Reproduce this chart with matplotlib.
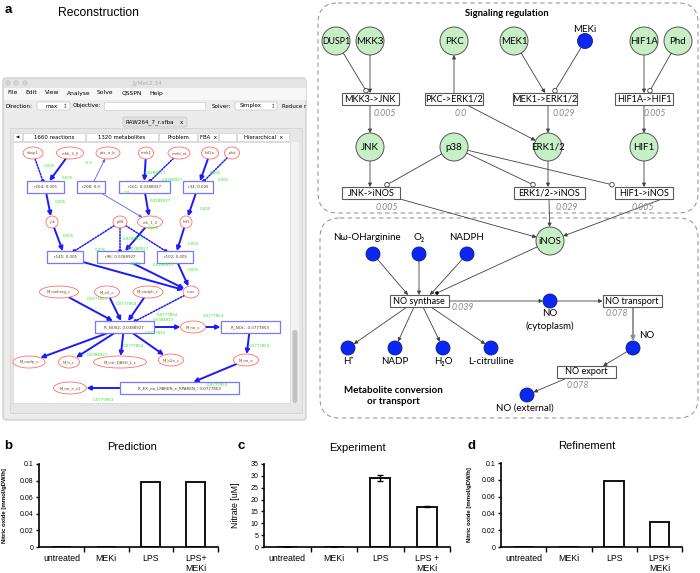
import numpy as np
import matplotlib
matplotlib.use('Agg')
import matplotlib.pyplot as plt
from matplotlib.patches import Circle, Ellipse, Rectangle, FancyBboxPatch, FancyArrowPatch

plt.rcParams['font.family'] = ['Liberation Sans', 'DejaVu Sans']

# values of the bar charts (panels b, c, d)
conditions = ['untreated', 'MEKi', 'LPS', 'LPS+\nMEKi']
conditions_exp = ['untreated', 'MEKi', 'LPS', 'LPS +\nMEKi']
no_prediction = [0, 0, 0.078, 0.078]
nitrate_exp = [0, 0, 29.2, 17.0]
nitrate_err = [0, 0, 1.3, 0.3]
no_refined = [0, 0, 0.078, 0.030]

# flux values written next to the reactions of the network
signal_flux = ['0.005', '0.0', '0.029', '0.005']
inos_flux = ['0.005', '0.029', '0.005']
metab_flux = ['0.039', '0.078', '0.078']

NET = ['Lato', 'DejaVu Sans']
UI = ['DejaVu Sans']

fig = plt.figure(figsize=(7, 5.73), dpi=100)
ax = fig.add_axes([0, 0, 1, 1])
ax.set_xlim(0, 700)
ax.set_ylim(573, 0)
ax.axis('off')


def txt(x, y, s, size, ha='center', va='center', **kw):
    ax.text(x, y, s, fontsize=size, ha=ha, va=va, **kw)


def arrow(p0, p1, color='#404040', lw=0.6, ms=5.5, style='-|>', ls='-', z=3):
    ax.add_patch(FancyArrowPatch(p0, p1, arrowstyle=style, mutation_scale=ms, lw=lw,
                                 color=color, linestyle=ls, shrinkA=0, shrinkB=0, zorder=z))


# ---------------- panel letters / titles ----------------
txt(5, 10, 'a', 9.5, ha='left', weight='bold')
txt(98, 13, 'Reconstruction', 8.7)
txt(4, 446, 'b', 9.5, ha='left', weight='bold')
txt(237, 446, 'c', 9.5, ha='left', weight='bold')
txt(467, 446, 'd', 9.5, ha='left', weight='bold')
txt(132, 447, 'Prediction', 8)
txt(357, 448, 'Experiment', 8)
txt(587, 446, 'Refinement', 8)

# ---------------- screenshot of the software ----------------
ax.add_patch(FancyBboxPatch((3, 78), 303, 342, boxstyle='round,pad=0,rounding_size=3',
                            fc='#ececec', ec='#c4c4c4', lw=0.8, zorder=1))
ax.add_patch(Rectangle((3.5, 78.5), 302, 9.5, fc='#e4e4e4', ec='none', zorder=1))
for cx in (8, 16, 25):
    ax.add_patch(Circle((cx, 83), 2.4, fc='#d2d2d2', ec='#c0c0c0', lw=0.3, zorder=2))
txt(147, 83, 'JyMet2.34', 4.3, color='#b0b0b0', family=UI)
ax.add_patch(Rectangle((3.5, 88), 302, 12, fc='#f7f7f7', ec='none', zorder=1))
for mx, m in zip([7, 25, 45, 67, 97, 122, 149],
                 ['File', 'Edit', 'View', 'Analyse', 'Solve', 'QSSPN', 'Help']):
    txt(mx, 93, m, 4.3, ha='left', family=UI)
txt(5, 106, 'Direction:', 4.1, ha='left', family=UI)
ax.add_patch(FancyBboxPatch((37, 102), 33, 8, boxstyle='round,pad=0,rounding_size=1.5',
                            fc='white', ec='#bdbdbd', lw=0.4, zorder=2))
txt(45, 106, 'max', 4.0, ha='left', family=UI)
txt(65, 106, '\u2195', 4.0, family=UI, color='#555555')
txt(73, 106, 'Objective:', 4.1, ha='left', family=UI)
ax.add_patch(Rectangle((104, 102), 101, 8, fc='white', ec='#c4c4c4', lw=0.4, zorder=2))
txt(212, 106, 'Solver:', 4.1, ha='left', family=UI)
ax.add_patch(FancyBboxPatch((235, 102), 42, 8, boxstyle='round,pad=0,rounding_size=1.5',
                            fc='white', ec='#bdbdbd', lw=0.4, zorder=2))
txt(240, 106, 'Simplex', 4.0, ha='left', family=UI)
txt(273, 106, '\u2195', 4.0, family=UI, color='#555555')
txt(282, 106, 'Reduce r', 4.0, ha='left', family=UI)
ax.add_patch(FancyBboxPatch((123, 117), 64, 10, boxstyle='round,pad=0,rounding_size=1.5',
                            fc='#e2e2e2', ec='#bcbcbc', lw=0.4, zorder=2))
txt(150, 122, 'RAW264_7_r.sfba', 4.1, family=UI)
txt(181, 122, 'x', 4.0, family=UI)
ax.add_patch(Rectangle((10, 128), 292, 285, fc='#e6e6e6', ec='#cfcfcf', lw=0.5, zorder=1))
for cx0, cw, lab in [(13, 9, '\u25c0'), (23, 62, '1660 reactions'), (86, 72, '1320 metabolites'),
                     (159, 38, 'Problem'), (198, 20, 'FBA  x'), (219, 17, ''),
                     (237, 52, 'Hierarchical  x')]:
    ax.add_patch(Rectangle((cx0, 133), cw, 8, fc='white', ec='#cccccc', lw=0.4, zorder=2))
    txt(cx0 + cw / 2, 137.3, lab, 3.9 if lab != '\u25c0' else 3.2, family=UI)
ax.add_patch(Rectangle((13, 142), 277, 261, fc='white', ec='#cccccc', lw=0.4, zorder=2))
ax.add_patch(Rectangle((291, 142), 8, 261, fc='#f2f2f2', ec='none', zorder=2))
ax.add_patch(FancyBboxPatch((292.5, 330), 5, 73, boxstyle='round,pad=0,rounding_size=2',
                            fc='#c2c2c2', ec='none', zorder=3))

# network drawn inside the screenshot
scr_nodes = {
    'dusp1': (33, 153, 20, 'e'), 'mkk_3_6': (70, 153, 27, 'e'), 'pkc_a_b': (108, 153, 24, 'e'),
    'mek1': (146, 153, 15, 'e'), 'meki_xt': (179, 153, 22, 'e'), 'hif1a': (210, 153, 17, 'e'),
    'phd': (232, 153, 15, 'e'),
    'r164; 0.005': (45, 187, 37, 'r'), 'r208; 0.0': (91, 187, 28, 'r'),
    'r161; 0.0288927': (144, 187, 51, 'r'), 'r34; 0.005': (198, 187, 30, 'r'),
    'jnk': (52, 222, 12, 'e'), 'p38': (120, 222, 14, 'e'), 'erk_1_2': (150, 222, 25, 'e'),
    'hif1': (186, 222, 12, 'e'),
    'r145; 0.005': (65, 257, 36, 'r'), 'r96; 0.0288927': (120, 257, 47, 'r'),
    'r102; 0.005': (175, 257, 36, 'r'),
    'inos': (191, 292, 16, 'e'), 'M_nwharg_c': (59, 292, 39, 'e'), 'M_o2_c': (107, 292, 25, 'e'),
    'M_nadph_c': (148, 292, 30, 'e'),
    'R_NOS2; 0.0388927': (124, 327, 59, 'r'), 'M_no_c': (193, 327, 25, 'e'),
    'R_NOt; -0.0777853': (250, 327, 59, 'r'),
    'M_nadp_c': (29, 362, 32, 'e'), 'M_h_c': (69, 362, 21, 'e'),
    'M_citr_DASH_L_c': (120, 362, 53, 'e'), 'M_h2o_c': (171, 360, 25, 'e'),
    'M_no_e': (246, 360, 25, 'e'),
    'M_no_e_x1': (70, 388, 33, 'e'),
    'R_EX_no_LPAREN_e_RPAREN_; 0.0777853': (179, 388, 119, 'r'),
}
scr_edges = [
    ('dusp1', 'r164; 0.005', 'dot'), ('mkk_3_6', 'r164; 0.005', 'thick'),
    ('r208; 0.0', 'pkc_a_b', 'thin'), ('mek1', 'r161; 0.0288927', 'thick'),
    ('meki_xt', 'r161; 0.0288927', 'dot'), ('hif1a', 'r34; 0.005', 'thick'),
    ('phd', 'r34; 0.005', 'dot'), ('r164; 0.005', 'jnk', 'thick'),
    ('r208; 0.0', 'erk_1_2', 'thin'), ('r161; 0.0288927', 'erk_1_2', 'thick'),
    ('r34; 0.005', 'hif1', 'thick'), ('jnk', 'r145; 0.005', 'thick'),
    ('p38', 'r145; 0.005', 'dot'), ('p38', 'r96; 0.0288927', 'dot'),
    ('erk_1_2', 'r96; 0.0288927', 'thick'), ('p38', 'r102; 0.005', 'dot'),
    ('hif1', 'r102; 0.005', 'thick'), ('r145; 0.005', 'inos', 'thick'),
    ('r96; 0.0288927', 'inos', 'thick'), ('r102; 0.005', 'inos', 'thick'),
    ('M_nwharg_c', 'R_NOS2; 0.0388927', 'thick'), ('M_o2_c', 'R_NOS2; 0.0388927', 'thick'),
    ('M_nadph_c', 'R_NOS2; 0.0388927', 'thick'), ('inos', 'R_NOS2; 0.0388927', 'dot'),
    ('R_NOS2; 0.0388927', 'M_no_c', 'thick'), ('M_no_c', 'R_NOt; -0.0777853', 'thick'),
    ('R_NOS2; 0.0388927', 'M_nadp_c', 'thick'), ('R_NOS2; 0.0388927', 'M_h_c', 'thick'),
    ('R_NOS2; 0.0388927', 'M_citr_DASH_L_c', 'thick'), ('R_NOS2; 0.0388927', 'M_h2o_c', 'thick'),
    ('R_NOt; -0.0777853', 'M_no_e', 'thick'),
    ('M_no_e', 'R_EX_no_LPAREN_e_RPAREN_; 0.0777853', 'thick'),
    ('R_EX_no_LPAREN_e_RPAREN_; 0.0777853', 'M_no_e_x1', 'thick'),
]
scr_green = [
    (49, 166, '0.005'), (67, 178, '0.005'), (89, 163, '-0.0'), (60, 202, '0.005'),
    (68, 236, '0.005'), (100, 250, '0.005'), (127, 193, '0.0'), (155, 173, '0.0288927'),
    (172, 180, '0.0288927'), (215, 173, '0.005'), (223, 180, '0.005'), (160, 201, '0.0288927'),
    (205, 209, '0.005'), (153, 228, '0.005'), (133, 239, '0.0288927'), (138, 249, '0.0288927'),
    (193, 244, '0.005'), (135, 264, '0.005'), (163, 265, '0.0288927'), (193, 270, '0.005'),
    (97, 299, '0.0777853'), (126, 304, '0.0777854'), (167, 315, '0.0777854'),
    (163, 320, '0.0388927'), (213, 316, '0.0777853'), (155, 333, '0.0777854'),
    (133, 346, '0.0777854'), (97, 355, '0.0388927'), (259, 346, '0.0777853'),
    (217, 385, '0.0777853'), (103, 400, '0.0777853'),
]


def scr_edge_pt(node, toward):
    x, y, w, kind = node
    dx, dy = toward[0] - x, toward[1] - y
    a, b = w / 2, 6
    if kind == 'e':
        t = np.arctan2(dy / b, dx / a)
        return x + a * np.cos(t), y + b * np.sin(t)
    s = min(a / abs(dx) if dx else np.inf, b / abs(dy) if dy else np.inf)
    return x + dx * s, y + dy * s


for a, b, kind in scr_edges:
    na, nb = scr_nodes[a], scr_nodes[b]
    p0 = scr_edge_pt(na, nb[:2])
    p1 = scr_edge_pt(nb, na[:2])
    if kind == 'thick':
        arrow(p0, p1, color='#1a1aff', lw=1.4, ms=6, z=4)
    elif kind == 'thin':
        arrow(p0, p1, color='#5a5aff', lw=0.6, ms=4, z=4)
    else:
        arrow(p0, p1, color='#1a1aff', lw=1.1, style='-', ls=(0, (1, 1)), z=4)
        ax.add_patch(Circle(p1, 1.9, fc='#1a1aff', ec='none', zorder=5))

for name, (x, y, w, kind) in scr_nodes.items():
    if kind == 'e':
        ax.add_patch(Ellipse((x, y), w, 12, fc='white', ec='#ff6b6b', lw=0.6, zorder=5))
        txt(x, y, name, 2.8, color='#7a4a20', family=UI, zorder=6)
    else:
        ax.add_patch(Rectangle((x - w / 2, y - 6), w, 12, fc='white', ec='#7878ff', lw=0.9, zorder=5))
        txt(x, y, name, 2.9, color='#5a3a1a', family=UI, zorder=6)
for x, y, s in scr_green:
    txt(x, y, s, 2.9, color='#2ee62e', family=UI, zorder=7)

# ---------------- hand-drawn network (right part of panel a) ----------------
for (x0, y0, w, h) in [(318, 3, 380, 210), (320, 218, 378, 200)]:
    ax.add_patch(FancyBboxPatch((x0, y0), w, h, boxstyle='round,pad=0,rounding_size=20',
                                fc='none', ec='#9a9a9a', lw=0.8, ls=(0, (4, 3)), zorder=1))
txt(507, 13, 'Signaling regulation', 6.8, weight='bold', family=NET)
txt(393, 396, 'Metabolite conversion\nor transport', 7, weight='bold', family=NET,
    linespacing=1.15)

green_nodes = {'DUSP1': (336, 41), 'MKK3': (370, 41), 'PKC': (454, 41), 'MEK1': (514, 41),
               'HIF1A': (644, 41), 'Phd': (678, 41), 'JNK': (370, 147), 'p38': (454, 147),
               'ERK1/2': (548, 147), 'HIF1': (644, 147), 'iNOS': (550, 241)}
blue_nodes = {'MEKi': (585, 41), 'Nw': (373, 254), 'O2': (419, 254), 'NADPH': (467, 254),
              'H+': (348, 348), 'NADP': (395, 348), 'H2O': (443, 348), 'Lcit': (491, 348),
              'NOc': (550, 301), 'NO': (633, 348), 'NOe': (527, 395)}
reactions = {'MKK3->JNK': (370, 99, 57), 'PKC->ERK1/2': (454, 99, 58),
             'MEK1->ERK1/2': (545, 99, 64), 'HIF1A->HIF1': (644, 99, 58),
             'JNK->iNOS': (371, 193, 58), 'ERK1/2->iNOS': (549, 193, 71),
             'HIF1->iNOS': (644, 193, 58), 'NO synthase': (419, 301, 59),
             'NO transport': (632, 301, 59), 'NO export': (586, 372, 59)}


def node_xy(n):
    return green_nodes[n] if n in green_nodes else blue_nodes[n]


def node_r(n):
    return 14 if n in green_nodes else (7.5 if n == 'MEKi' else 7)


def toward(c, p, r):
    dx, dy = p[0] - c[0], p[1] - c[1]
    d = np.hypot(dx, dy)
    return c[0] + dx / d * r, c[1] + dy / d * r


sig_edges = [
    ('DUSP1', (366, 90.7), 'open'), ('MKK3', (370, 93), 'arrow'), ((370, 105), 'JNK', 'arrow'),
    ((454, 93), 'PKC', 'arrow'), ((467, 105), 'ERK1/2', 'arrow'), ('MEK1', (545, 93), 'arrow'),
    ('MEKi', (555, 90.7), 'open'), ((548, 105), 'ERK1/2', 'arrow'),
    ('HIF1A', (644, 93), 'arrow'), ('Phd', (650, 90.7), 'open'), ((644, 105), 'HIF1', 'arrow'),
    ('JNK', (370, 187), 'arrow'), ('p38', (387, 184.7), 'open'), ('p38', (533, 184.7), 'open'),
    ('p38', (612, 184.7), 'open'), ('ERK1/2', (548, 187), 'arrow'), ('HIF1', (644, 187), 'arrow'),
    ((400, 199), 'iNOS', 'arrow'), ((549, 199), 'iNOS', 'arrow'), ((662, 199), 'iNOS', 'arrow'),
    ('iNOS', (437, 293), 'dot'), ('Nw', (408, 295), 'arrow'), ('O2', (419, 295), 'arrow'),
    ('NADPH', (430, 295), 'arrow'), ((407, 307), 'H+', 'arrow'), ((414, 307), 'NADP', 'arrow'),
    ((423, 307), 'H2O', 'arrow'), ((431, 307), 'Lcit', 'arrow'), ((448.5, 301), 'NOc', 'arrow'),
    ('NOc', (602.5, 301), 'arrow'), ((633, 307), 'NO', 'gray'), ('NO', (603, 366), 'arrow'),
    ((567, 378), 'NOe', 'arrow'),
]
for a, b, kind in sig_edges:
    ca = node_xy(a) if isinstance(a, str) else a
    cb = node_xy(b) if isinstance(b, str) else b
    p0 = toward(ca, cb, node_r(a)) if isinstance(a, str) else ca
    p1 = toward(cb, ca, node_r(b)) if isinstance(b, str) else cb
    if kind == 'arrow':
        arrow(p0, p1)
    elif kind == 'gray':
        arrow(p0, p1, color='#8c8c8c', lw=1.3, ms=6)
    elif kind == 'open':
        arrow(p0, toward(p1, p0, 2.3), style='-')
        ax.add_patch(Circle(p1, 2.3, fc='white', ec='#404040', lw=0.6, zorder=4))
    else:
        arrow(p0, toward(p1, p0, 1.8), style='-')
        ax.add_patch(Circle(p1, 1.8, fc='black', ec='none', zorder=4))

for name, (x, y, w) in reactions.items():
    ax.add_patch(Rectangle((x - w / 2, y - 6), w, 12, fc='white', ec='#5a5a5a', lw=0.8, zorder=5))
    txt(x, y, name, 6.6, family=NET, zorder=6)

for name, (x, y) in green_nodes.items():
    ax.add_patch(Circle((x, y), 14, fc='#c6efc6', ec='#555555', lw=0.7, zorder=5))
    txt(x, y, name, 6.3 if name == 'DUSP1' else 7, family=NET, zorder=6)
for name, (x, y) in blue_nodes.items():
    ax.add_patch(Circle((x, y), node_r(name), fc='#0a28f0', ec='#0a1a90', lw=0.6, zorder=5))

for x, y, s in [(585, 29, 'MEKi'), (367, 238, 'N\u03c9-OHarginine'), (419, 238, 'O\u2082'),
                (467, 238, 'NADPH'), (348, 362, 'H\u207a'), (395, 362, 'NADP'),
                (443, 362, 'H\u2082O'), (491, 362, 'L-citrulline'), (550, 314, 'NO'),
                (550, 326, '(cytoplasm)'), (647, 336, 'NO'), (525, 408, 'NO (external)')]:
    txt(x, y, s, 7, family=NET)

flux_pos = [(385, 113), (461, 113), (564, 113), (655, 113)]
for (x, y), s in zip(flux_pos, signal_flux):
    txt(x, y, s, 6.3, style='italic', color='#8a8a8a', family=NET)
for (x, y), s in zip([(387, 207), (567, 207), (643, 207)], inos_flux):
    txt(x, y, s, 6.3, style='italic', color='#8a8a8a', family=NET)
for (x, y), s in zip([(463, 308), (617, 314), (578, 385)], metab_flux):
    txt(x, y, s, 6.3, style='italic', color='#8a8a8a', family=NET)


# ---------------- bar charts ----------------
def bar_panel(left, top, width, values, labels, ymax, ystep, ylabel, lab_x, lab_kw, err=None):
    bottom = 547
    axb = fig.add_axes([left / 700, 1 - bottom / 573, width / 700, (bottom - top) / 573])
    axb.patch.set_alpha(0)
    x = np.arange(len(values))
    axb.bar(x, values, width=0.43, color='white', edgecolor='black', linewidth=1.3,
            yerr=err, error_kw=dict(ecolor='black', elinewidth=1.0, capsize=2, capthick=1.0))
    axb.set_xlim(-0.5, 3.5)
    axb.set_ylim(0, ymax)
    yt = np.arange(0, ymax + ystep / 2, ystep)
    axb.set_yticks(yt)
    axb.set_yticklabels([f'{v:g}' for v in yt], fontsize=5)
    axb.set_xticks([0.5, 1.5, 2.5, 3.5])
    axb.set_xticklabels([])
    axb.set_xticks(x, minor=True)
    axb.set_xticklabels(labels, minor=True, fontsize=6.3, linespacing=1.15)
    axb.tick_params(axis='x', which='minor', length=0, pad=5)
    axb.tick_params(axis='x', which='major', length=3.5, width=1.0, direction='out')
    axb.tick_params(axis='y', length=2.5, width=1.0, direction='out', pad=1.5)
    for s in ('top', 'right'):
        axb.spines[s].set_visible(False)
    for s in ('left', 'bottom'):
        axb.spines[s].set_linewidth(1.2)
    axb.set_ylabel(ylabel, **lab_kw)
    axb.yaxis.set_label_coords((lab_x - left) / width, 0.5)
    return axb


bar_panel(39, 464, 179, no_prediction, conditions, 0.1, 0.02,
          'Nitric oxide [mmol/gDW/h]', 7, dict(fontsize=4.3, weight='bold'))
bar_panel(264, 464, 186, nitrate_exp, conditions_exp, 35, 5,
          'Nitrate [uM]', 240, dict(fontsize=6.3), err=nitrate_err)
bar_panel(501, 463, 181, no_refined, conditions, 0.1, 0.02,
          'Nitric oxide [mmol/gDW/h]', 472, dict(fontsize=4.3, weight='bold'))

fig.savefig('out.png', dpi=100)
